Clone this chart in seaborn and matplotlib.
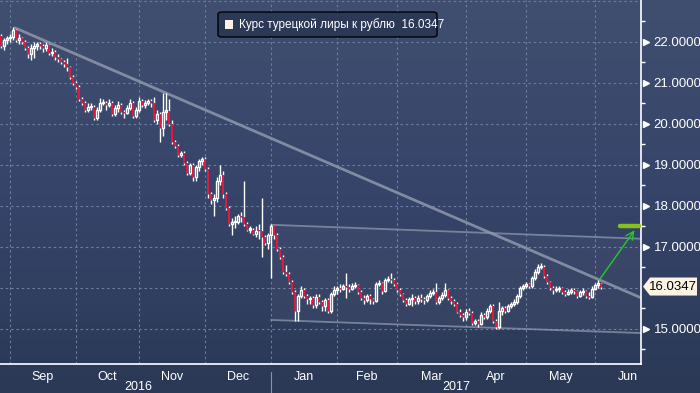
import numpy as np
import pandas as pd
import matplotlib
matplotlib.use("Agg")
import matplotlib.pyplot as plt
from matplotlib.colors import LinearSegmentedColormap
from matplotlib.patches import FancyBboxPatch, Polygon
import seaborn as sns

# daily TRY/RUB candles, business days from 2016-08-29
first_open = 22.15
closes = [
    21.9, 22.05, 22.1, 22.12, 22.3, 22.05, 22.1, 22.0, 21.85, 21.7,
    21.85, 21.9, 21.95, 21.9, 21.85, 21.92, 21.72, 21.75, 21.62, 21.58,
    21.52, 21.45, 21.38, 21.15, 21.0, 20.9, 20.6, 20.5, 20.35, 20.4,
    20.42, 20.15, 20.35, 20.5, 20.52, 20.45, 20.5, 20.25, 20.38, 20.45,
    20.3, 20.27, 20.38, 20.5, 20.2, 20.35, 20.55, 20.45, 20.5, 20.55,
    20.5, 20.1, 20.25, 19.9, 20.3, 20.32, 20.0, 19.55, 19.45, 19.25,
    19.3, 19.05, 18.8, 19.0, 18.7, 18.95, 19.1, 19.15, 18.9, 18.3,
    18.15, 18.2, 18.6, 18.75, 18.3, 17.95, 17.55, 17.6, 17.62, 17.75,
    17.72, 17.55, 17.42, 17.42, 17.32, 17.4, 17.38, 17.25, 17.1, 17.3,
    17.5, 17.3, 16.95, 16.75, 16.4, 16.35, 16.15, 15.9, 15.45, 15.8,
    15.95, 15.8, 15.72, 15.75, 15.58, 15.78, 15.65, 15.55, 15.7, 15.45,
    15.85, 15.95, 16.0, 15.98, 16.05, 16.02, 15.98, 16.05, 16.08, 15.9,
    15.75, 15.7, 15.8, 15.72, 15.68, 16.1, 16.12, 15.92, 16.2, 16.22,
    16.2, 16.1, 15.95, 15.85, 15.7, 15.62, 15.72, 15.75, 15.68, 15.75,
    15.72, 15.7, 15.8, 15.88, 15.9, 15.65, 15.75, 15.82, 15.95, 15.75,
    15.68, 15.6, 15.42, 15.35, 15.28, 15.42, 15.4, 15.15, 15.2, 15.12,
    15.35, 15.3, 15.45, 15.55, 15.2, 15.05, 15.45, 15.5, 15.45, 15.55,
    15.6, 15.65, 15.8, 16.0, 16.05, 16.1, 16.05, 16.25, 16.4, 16.5,
    16.52, 16.3, 16.15, 16.0, 15.95, 15.98, 16.0, 15.9, 15.85, 15.9,
    15.95, 15.92, 15.8, 15.9, 15.92, 15.8, 15.78, 15.98, 16.08, 16.1,
    16.03,
]
highs = [
    22.2, 22.1, 22.15, 22.2, 22.35, 22.32, 22.18, 22.12, 22.05, 21.9,
    21.95, 22.0, 22.0, 22.0, 21.95, 22.0, 21.95, 21.85, 21.8, 21.7,
    21.6, 21.55, 21.6, 21.4, 21.2, 21.05, 20.95, 20.65, 20.55, 20.5,
    20.5, 20.45, 20.4, 20.62, 20.6, 20.55, 20.6, 20.55, 20.45, 20.55,
    20.5, 20.35, 20.45, 20.6, 20.55, 20.4, 20.65, 20.6, 20.58, 20.6,
    20.6, 20.65, 20.35, 20.3, 20.75, 20.75, 20.6, 20.1, 19.6, 19.5,
    19.35, 19.35, 19.1, 19.05, 19.05, 19.0, 19.15, 19.2, 19.2, 18.95,
    18.35, 18.3, 18.7, 19.0, 18.85, 18.35, 18.0, 17.7, 17.75, 17.8,
    17.85, 18.6, 17.6, 17.5, 17.45, 17.5, 17.55, 18.2, 17.3, 17.35,
    17.55, 17.52, 17.35, 17.0, 16.8, 16.55, 16.4, 16.2, 15.95, 15.85,
    16.05, 16.0, 15.85, 15.8, 15.8, 15.85, 15.85, 15.7, 15.75, 15.75,
    15.9, 16.05, 16.05, 16.1, 16.1, 16.37, 16.1, 16.12, 16.15, 16.1,
    15.95, 15.82, 15.85, 15.85, 15.75, 16.15, 16.2, 16.15, 16.25, 16.3,
    16.37, 16.25, 16.12, 16.0, 15.88, 15.75, 15.78, 15.85, 15.8, 15.82,
    15.85, 15.78, 15.85, 15.95, 15.98, 16.12, 15.8, 15.9, 16.12, 15.98,
    15.8, 15.72, 15.65, 15.48, 15.4, 15.48, 15.5, 15.45, 15.25, 15.25,
    15.42, 15.4, 15.5, 15.6, 15.6, 15.25, 15.65, 15.55, 15.55, 15.6,
    15.65, 15.72, 15.85, 16.05, 16.1, 16.15, 16.12, 16.3, 16.45, 16.58,
    16.6, 16.55, 16.35, 16.18, 16.05, 16.05, 16.05, 16.02, 15.95, 15.98,
    16.0, 16.0, 15.95, 15.95, 16.0, 15.95, 15.9, 16.05, 16.12, 16.2,
    16.12,
]
lows = [
    21.85, 21.8, 21.95, 22.0, 22.05, 22.0, 21.95, 21.95, 21.8, 21.6,
    21.55, 21.6, 21.8, 21.82, 21.75, 21.78, 21.68, 21.65, 21.55, 21.5,
    21.45, 21.38, 21.3, 21.1, 20.95, 20.85, 20.55, 20.45, 20.3, 20.3,
    20.35, 20.1, 20.1, 20.3, 20.45, 20.35, 20.4, 20.2, 20.2, 20.3,
    20.25, 20.15, 20.25, 20.35, 20.15, 20.15, 20.3, 20.4, 20.38, 20.45,
    20.42, 20.05, 20.0, 19.55, 19.7, 20.1, 19.95, 19.5, 19.4, 19.2,
    19.2, 19.0, 18.75, 18.75, 18.6, 18.6, 18.85, 19.0, 18.85, 18.2,
    18.05, 17.75, 18.1, 18.5, 18.2, 17.9, 17.5, 17.3, 17.45, 17.55,
    17.6, 17.5, 17.38, 17.35, 17.28, 17.25, 17.2, 16.75, 17.05, 16.95,
    16.25, 17.2, 16.9, 16.7, 16.35, 16.3, 16.1, 15.85, 15.2, 15.2,
    15.75, 15.75, 15.6, 15.6, 15.5, 15.5, 15.6, 15.45, 15.45, 15.4,
    15.4, 15.8, 15.85, 15.9, 15.95, 15.75, 15.9, 15.95, 16.0, 15.85,
    15.7, 15.6, 15.65, 15.6, 15.6, 15.65, 16.05, 15.85, 15.9, 16.15,
    16.12, 16.05, 15.9, 15.8, 15.65, 15.55, 15.58, 15.55, 15.6, 15.6,
    15.65, 15.62, 15.65, 15.75, 15.82, 15.6, 15.62, 15.7, 15.78, 15.7,
    15.62, 15.55, 15.38, 15.3, 15.2, 15.22, 15.35, 15.1, 15.1, 15.05,
    15.1, 15.25, 15.25, 15.4, 15.15, 15.0, 15.0, 15.35, 15.4, 15.42,
    15.5, 15.55, 15.6, 15.75, 15.95, 16.0, 16.0, 16.0, 16.2, 16.35,
    16.45, 16.25, 16.1, 15.95, 15.85, 15.9, 15.9, 15.85, 15.8, 15.82,
    15.85, 15.85, 15.75, 15.78, 15.82, 15.75, 15.72, 15.75, 15.95, 16.0,
    15.98,
]
start_date = "2016-08-29"
last_price = 16.0347
legend_label = "Курс турецкой лиры к рублю  16.0347"
y_ticks = [15, 17, 18, 19, 20, 21, 22]

# trendlines drawn on the chart: (bar index, price) pairs
trend_main = ([4.67, 213.33], [22.34, 15.76])
trend_upper = ([90, 213.33], [17.54, 17.20])
trend_lower = ([90, 213.33], [15.22, 14.90])
arrow_from = (199, 16.15)
arrow_to = (211.7, 17.46)
target = ([206.3, 212.7], [17.52, 17.52])

n = len(closes)
dates = pd.bdate_range(start_date, periods=n)
df = pd.DataFrame({"date": dates, "close": closes, "high": highs, "low": lows})
df["open"] = [first_open] + closes[:-1]
df["x"] = np.arange(n)
df["top"] = df[["open", "close"]].max(axis=1)
df["bot"] = df[["open", "close"]].min(axis=1)
df["high"] = np.maximum(df["high"], df["top"])
df["low"] = np.minimum(df["low"], df["bot"])
df["up"] = df["close"] >= df["open"]

sns.set_style("dark")
plt.rcParams["font.family"] = ["Liberation Sans", "DejaVu Sans"]
narrow = ["Liberation Sans Narrow", "DejaVu Sans Condensed", "Liberation Sans"]

W, H = 700, 393
fig = plt.figure(figsize=(7, 3.93), dpi=100)
bg = fig.add_axes([0, 0, 1, 1], zorder=0)
cmap = LinearSegmentedColormap.from_list("bg", ["#404e6f", "#36446a", "#2b3956"])
bg.imshow(np.linspace(0, 1, 256)[:, None], aspect="auto", cmap=cmap,
          extent=[0, 1, 0, 1], origin="upper")
bg.axis("off")

ax = fig.add_axes([0, 29 / H, 641 / W, 364 / H], zorder=1)
ax.patch.set_alpha(0)
xmin, xmax = -0.33, 213.33
ymin, ymax = 14.146, 23.02
ax.set_xlim(xmin, xmax)
ax.set_ylim(ymin, ymax)

# grid
grid_kw = dict(color="#6a7fa2", lw=0.8, ls=(0, (2.2, 2.6)), zorder=1)
for v in range(15, 24):
    ax.axhline(v, **grid_kw)

# month starts (business days)
all_days = pd.bdate_range(start_date, "2017-07-31")
month_starts = []
prev = None
for i, d in enumerate(all_days):
    if d.month != prev:
        month_starts.append((i, d))
        prev = d.month
month_starts = month_starts[1:]
tick_pos = [p for p, d in month_starts if p <= xmax]
for p in tick_pos:
    ax.axvline(p, **grid_kw)

# channel highlight
xs = np.array(trend_upper[0])
ax.fill_between(xs, trend_lower[1], trend_upper[1], color="white", alpha=0.035, lw=0, zorder=1)

# trendlines
sns.lineplot(x=trend_main[0], y=trend_main[1], ax=ax, color="#8a93a8", lw=2.0, alpha=0.9, zorder=2)
sns.lineplot(x=trend_upper[0], y=trend_upper[1], ax=ax, color="#8e98ad", lw=1.3, alpha=0.75, zorder=2)
sns.lineplot(x=trend_lower[0], y=trend_lower[1], ax=ax, color="#8e98ad", lw=1.3, alpha=0.75, zorder=2)

# candles
ax.vlines(df["x"], df["low"], df["bot"], color="white", lw=1.0, zorder=3)
ax.vlines(df["x"], df["top"], df["high"], color="white", lw=1.0, zorder=3)
hgt = np.maximum(df["top"] - df["bot"], 0.03)
up = df[df["up"]]
dn = df[~df["up"]]
ax.bar(up["x"], hgt[df["up"]], bottom=up["bot"], width=0.66, facecolor="none",
       edgecolor="white", lw=1.0, zorder=4)
ax.bar(dn["x"], hgt[~df["up"]], bottom=dn["bot"], width=0.8, color="#e3183e",
       lw=0, zorder=4)

# arrow + target
ax.annotate("", xy=arrow_to, xytext=arrow_from,
            arrowprops=dict(arrowstyle="->", color="#22cc22", lw=1.0,
                            mutation_scale=14), zorder=5)
sns.lineplot(x=target[0], y=target[1], ax=ax, color="#86c21c", lw=3.2, zorder=5)

# spines / axes
for s in ["top", "left"]:
    ax.spines[s].set_visible(False)
for s in ["bottom", "right"]:
    ax.spines[s].set_visible(True)
    ax.spines[s].set_color("white")
    ax.spines[s].set_linewidth(1.2)

ax.yaxis.tick_right()
ax.set_yticks(y_ticks)
ax.set_yticklabels([f"{v:.4f}" for v in y_ticks], color="white", fontsize=9.5)
ax.set_yticks([v + 0.5 for v in range(14, 23)], minor=True)
ax.tick_params(axis="y", which="major", length=0, pad=9)
ax.tick_params(axis="y", which="minor", length=3, width=1, color="white", direction="out")
ytr = ax.get_yaxis_transform()
ax.plot([1 + 4.5 / 641] * len(y_ticks), y_ticks, marker=">", ls="none", ms=4.5,
        color="white", transform=ytr, clip_on=False, zorder=6)

ax.set_xticks(tick_pos)
ax.set_xticklabels([])
ax.tick_params(axis="x", which="major", length=4, width=1, color="white", direction="out")
ax.set_xlabel("")
ax.set_ylabel("")

xtr = ax.get_xaxis_transform()
for k, (p, d) in enumerate(month_starts[:-1]):
    nxt = month_starts[k + 1][0]
    mid = (p + nxt) / 2
    if mid > xmax:
        continue
    ax.text(mid, -13 / 364, d.strftime("%b"), transform=xtr, ha="center", va="center",
            color="white", fontsize=9, family=narrow)
jan = [p for p, d in month_starts if d.month == 1][0]
ax.text((xmin + jan) / 2 + 1, -23 / 364, "2016", transform=xtr, ha="center",
        va="center", color="white", fontsize=9, family=narrow)
ax.text((jan + xmax) / 2, -23 / 364, "2017", transform=xtr, ha="center",
        va="center", color="white", fontsize=9, family=narrow)
ax.plot([jan, jan], [-8 / 364, -29 / 364], color="#8a93a6", lw=0.8, transform=xtr, clip_on=False)

# last price tag
tag = Polygon([(643 / 641, last_price), (650 / 641, last_price + 0.22),
               (697 / 641, last_price + 0.22), (697 / 641, last_price - 0.22),
               (650 / 641, last_price - 0.22)], closed=True, transform=ytr,
              facecolor="#fdf3e3", edgecolor="none", clip_on=False, zorder=7)
ax.add_patch(tag)
ax.text(673 / 641, last_price, f"{last_price:.4f}", transform=ytr, ha="center", va="center",
        color="black", fontsize=9.5, zorder=8)

# legend box
box = FancyBboxPatch((218 / W, 1 - 37 / H), 219 / W, 25 / H,
                     boxstyle="round,pad=0,rounding_size=0.006", transform=fig.transFigure,
                     facecolor="#2c3956", edgecolor="black", lw=1.0, zorder=9)
fig.add_artist(box)
sq = plt.Rectangle((225 / W, 1 - 29 / H), 8 / W, 9 / H, transform=fig.transFigure,
                   facecolor="#fff2e6", edgecolor="none", zorder=10)
fig.add_artist(sq)
fig.text(239 / W, 1 - 24.5 / H, legend_label, color="white", fontsize=8.5,
         va="center", ha="left", zorder=11)

fig.savefig("out.png", dpi=100)
